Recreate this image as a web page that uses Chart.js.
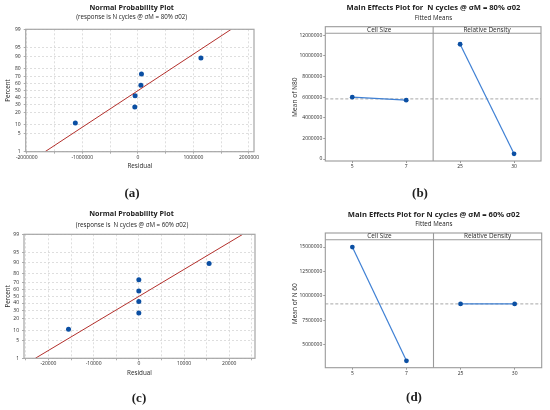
<!DOCTYPE html>
<html>
<head>
<meta charset="utf-8">
<script src="https://cdn.jsdelivr.net/npm/chart.js@4.4.1/dist/chart.umd.min.js"></script>
<style>
  html, body { margin: 0; padding: 0; background: #fff; }
  #page { position: relative; width: 550px; height: 410px; overflow: hidden; font-family: "Open Sans", sans-serif; color: #222; }
  canvas { position: absolute; }
  .t { position: absolute; transform: translate(-50%, -50%); white-space: pre; line-height: 1; }
  .title { font-weight: 700; font-size: 7.2px; }
  .title.fx { font-size: 7.6px; }
  .sub { font-size: 6.2px; }
  .tag { font-family: "Liberation Serif", serif; font-weight: 700; font-size: 13px; }
</style>
</head>
<body>
<div id="page">
  <canvas id="probA" width="275" height="205" style="left:0;top:0"></canvas>
  <canvas id="effB" width="275" height="205" style="left:275px;top:0"></canvas>
  <canvas id="probC" width="275" height="205" style="left:0;top:205px"></canvas>
  <canvas id="effD" width="275" height="205" style="left:275px;top:205px"></canvas>

  <div class="t title" style="left:131.7px;top:7.5px">Normal Probability Plot</div>
  <div class="t sub" style="left:131.7px;top:17.3px">(response is N cycles @ σM = 80% σ02)</div>
  <div class="t title fx" style="left:433.5px;top:8.3px">Main Effects Plot for  N cycles @ σM = 80% σ02</div>
  <div class="t sub" style="left:433.5px;top:18.3px">Fitted Means</div>
  <div class="t title" style="left:131.5px;top:214px">Normal Probability Plot</div>
  <div class="t sub" style="left:132px;top:225px">(response is  N cycles @ σM = 60% σ02)</div>
  <div class="t title fx" style="left:433.8px;top:215px">Main Effects Plot for N cycles @ σM = 60% σ02</div>
  <div class="t sub" style="left:433.8px;top:224.3px">Fitted Means</div>

  <div class="t tag" style="left:132px;top:192.3px">(a)</div>
  <div class="t tag" style="left:420px;top:192.3px">(b)</div>
  <div class="t tag" style="left:139px;top:396.7px">(c)</div>
  <div class="t tag" style="left:414px;top:396px">(d)</div>
</div>
<script>
// probability plots
const rankPercents = [10.9, 26.6, 42.2, 57.8, 73.4, 89.1];
const percentTicks = [1, 5, 10, 20, 30, 40, 50, 60, 70, 80, 90, 95, 99];
const fitPercents = [1, 99];

const residualsA = [-1125000, -55000, -50000, 55000, 65000, 1135000];
const fitResidualsA = [-1670000, 1680000];
const residualGridA = [-2000000, -1500000, -1000000, -500000, 0, 500000, 1000000, 1500000, 2000000];
const residualLabelsA = [-2000000, -1000000, 0, 1000000, 2000000];

const residualsC = [-15550, 0, 0, 0, 0, 15550];
const fitResidualsC = [-22900, 23000];
const residualGridC = [-25000, -20000, -15000, -10000, -5000, 0, 5000, 10000, 15000, 20000, 25000];
const residualLabelsC = [-20000, -10000, 0, 10000, 20000];

// main effects plots
const panelNames = ["Cell Size", "Relative Density"];
const cellSizeLevels = ["5", "7"];
const densityLevels = ["25", "30"];

const cellSizeMeans80 = [6000000, 5710000];
const densityMeans80 = [11130000, 510000];
const grandMean80 = 5830000;
const meanTicks80 = [0, 2000000, 4000000, 6000000, 8000000, 10000000, 12000000];

const cellSizeMeans60 = [15000000, 3350000];
const densityMeans60 = [9180000, 9180000];
const grandMean60 = 9180000;
const meanTicks60 = [5000000, 7500000, 10000000, 12500000, 15000000];

const fontFamily = '"Open Sans", sans-serif';
const textColor = "#2a2a2a";
const frameColor = "#a6a6a6";
const gridColor = "#d6d6d6";
const pointBlue = "#0b4fa3";
const effectLine = "#3f80d4";
const fitRed = "#b3302c";

// inverse of the normal cdf (Acklam), used by the probability scale
function probit(p) {
    const a = [-39.69683028665376, 220.9460984245205, -275.9285104469687, 138.3577518672690, -30.66479806614716, 2.506628277459239];
    const b = [-54.47609879822406, 161.5858368580409, -155.6989798598866, 66.80131188771972, -13.28068155288572];
    const c = [-0.007784894002430293, -0.3223964580411365, -2.400758277161838, -2.549671348021240, 4.374664141464968, 2.938163982698783];
    const d = [0.007784695709041462, 0.3224671290700398, 2.445134137142996, 3.754408661907416];
    const low = 0.02425;
    if (p < low || p > 1 - low) {
        const q = Math.sqrt(-2 * Math.log(p < low ? p : 1 - p));
        const z = (((((c[0] * q + c[1]) * q + c[2]) * q + c[3]) * q + c[4]) * q + c[5]) /
                  ((((d[0] * q + d[1]) * q + d[2]) * q + d[3]) * q + 1);
        return p < low ? z : -z;
    }
    const q = p - 0.5, r = q * q;
    return (((((a[0] * r + a[1]) * r + a[2]) * r + a[3]) * r + a[4]) * r + a[5]) * q /
           (((((b[0] * r + b[1]) * r + b[2]) * r + b[3]) * r + b[4]) * r + 1);
}

class ProbitScale extends Chart.Scale {
    static id = "probit";
    static defaults = {};

    determineDataLimits() {
        this.min = this.options.min;
        this.max = this.options.max;
    }
    buildTicks() {
        return [];
    }
    configure() {
        super.configure();
        this._zMin = probit(this.min / 100);
        this._zMax = probit(this.max / 100);
    }
    getPixelForValue(value) {
        if (value === null || value === undefined) return NaN;
        return this.getPixelForDecimal((probit(value / 100) - this._zMin) / (this._zMax - this._zMin));
    }
    getValueForPixel(pixel) {
        const z = this._zMin + this.getDecimalForPixel(pixel) * (this._zMax - this._zMin);
        let lo = 0.0001, hi = 0.9999;
        for (let i = 0; i < 40; i++) {
            const mid = (lo + hi) / 2;
            if (probit(mid) < z) lo = mid; else hi = mid;
        }
        return lo * 100;
    }
    getPixelForTick(index) {
        return this.getPixelForValue(this.ticks[index].value);
    }
}
Chart.register(ProbitScale);

const plotFrame = {
    id: "plotFrame",
    afterDatasetsDraw(chart) {
        const { ctx, chartArea: a } = chart;
        ctx.save();
        ctx.strokeStyle = frameColor;
        ctx.lineWidth = 1.2;
        ctx.strokeRect(a.left, a.top, a.width, a.height);
        ctx.restore();
    }
};

const effectsFrame = {
    id: "effectsFrame",
    beforeDatasetsDraw(chart, args, opts) {
        const { ctx, chartArea: a, scales: { y } } = chart;
        const my = y.getPixelForValue(opts.mean);
        ctx.save();
        ctx.setLineDash([3, 2]);
        ctx.strokeStyle = "#9c9c9c";
        ctx.lineWidth = 0.9;
        ctx.beginPath();
        ctx.moveTo(a.left, my);
        ctx.lineTo(a.right, my);
        ctx.stroke();
        ctx.restore();
    },
    afterDatasetsDraw(chart, args, opts) {
        const { ctx, chartArea: a, scales: { x } } = chart;
        const mid = (x.getPixelForValue(1) + x.getPixelForValue(2)) / 2;
        const top = a.top - opts.header;
        ctx.save();
        ctx.strokeStyle = "#9a9a9a";
        ctx.lineWidth = 1.1;
        ctx.strokeRect(a.left, top, a.width, a.bottom - top);
        ctx.beginPath();
        ctx.moveTo(a.left, a.top);
        ctx.lineTo(a.right, a.top);
        ctx.moveTo(mid, top);
        ctx.lineTo(mid, a.bottom);
        ctx.stroke();
        ctx.fillStyle = textColor;
        ctx.font = "6.4px " + fontFamily;
        ctx.textAlign = "center";
        ctx.textBaseline = "middle";
        ctx.fillText(panelNames[0], (a.left + mid) / 2, top + opts.header / 2 + 0.3);
        ctx.fillText(panelNames[1], (mid + a.right) / 2, top + opts.header / 2 + 0.3);
        ctx.restore();
    }
};

function tickFont(size) {
    return { family: fontFamily, size };
}

function probPlot(id, residuals, fitResiduals, grid, labels, range, box) {
    return new Chart(document.getElementById(id), {
        type: "scatter",
        data: {
            datasets: [
                {
                    type: "line",
                    data: fitResiduals.map((x, i) => ({ x, y: fitPercents[i] })),
                    borderColor: fitRed,
                    borderWidth: 1,
                    pointRadius: 0
                },
                {
                    type: "scatter",
                    data: residuals.map((x, i) => ({ x, y: rankPercents[i] })),
                    backgroundColor: pointBlue,
                    borderWidth: 0,
                    pointRadius: 2.5
                }
            ]
        },
        options: {
            responsive: false,
            animation: false,
            events: [],
            layout: { padding: { left: 0, right: box.right, top: box.top, bottom: box.bottom } },
            plugins: { legend: { display: false }, tooltip: { enabled: false } },
            scales: {
                x: {
                    type: "linear",
                    min: range[0],
                    max: range[1],
                    afterBuildTicks: (s) => { s.ticks = grid.map((v) => ({ value: v })); },
                    afterFit: (s) => { s.height = 20; },
                    ticks: {
                        callback: (v) => (labels.includes(v) ? String(v) : ""),
                        autoSkip: false, maxRotation: 0, padding: 0.5,
                        font: tickFont(5), color: textColor
                    },
                    grid: { color: gridColor, lineWidth: 0.8, tickLength: 2, tickColor: "#999", tickBorderDash: [] },
                    border: { display: false, dash: [2, 2] },
                    title: {
                        display: true, text: "Residual", color: textColor,
                        font: tickFont(6.3), padding: { top: 0, bottom: box.titleX }
                    }
                },
                y: {
                    type: "probit",
                    min: 1,
                    max: 99,
                    afterBuildTicks: (s) => { s.ticks = percentTicks.map((v) => ({ value: v })); },
                    afterFit: (s) => { s.width = box.left; },
                    ticks: { autoSkip: false, padding: 3, font: tickFont(5), color: textColor },
                    grid: { color: gridColor, lineWidth: 0.8, tickLength: 2, tickColor: "#999", tickBorderDash: [] },
                    border: { display: false, dash: [2, 2] },
                    title: {
                        display: true, text: "Percent", color: textColor,
                        font: tickFont(6.3), padding: { top: box.titleY, bottom: 0 }
                    }
                }
            }
        },
        plugins: [plotFrame]
    });
}

function effectsPlot(id, cellMeans, densityMeans, grandMean, ticks, range, yTitle, box) {
    const nulls = cellSizeLevels.map(() => null);
    return new Chart(document.getElementById(id), {
        type: "line",
        data: {
            labels: [...cellSizeLevels, ...densityLevels],
            datasets: [
                { data: [...cellMeans, ...nulls] },
                { data: [...nulls, ...densityMeans] }
            ]
        },
        options: {
            responsive: false,
            animation: false,
            events: [],
            layout: { padding: { left: 0, right: box.right, top: box.top, bottom: box.bottom } },
            elements: {
                line: { borderColor: effectLine, borderWidth: 1.2, tension: 0 },
                point: { radius: 2.4, backgroundColor: pointBlue, borderWidth: 0 }
            },
            plugins: {
                legend: { display: false },
                tooltip: { enabled: false },
                effectsFrame: { mean: grandMean, header: box.header }
            },
            scales: {
                x: {
                    type: "category",
                    offset: true,
                    afterFit: (s) => { s.height = 10; },
                    ticks: { autoSkip: false, maxRotation: 0, padding: 0.8, font: tickFont(5), color: textColor },
                    grid: { drawOnChartArea: false, tickLength: 2, tickColor: "#999" },
                    border: { display: false }
                },
                y: {
                    min: range[0],
                    max: range[1],
                    afterBuildTicks: (s) => { s.ticks = ticks.map((v) => ({ value: v })); },
                    afterFit: (s) => { s.width = box.left; },
                    ticks: { callback: (v) => String(v), autoSkip: false, padding: 1, font: tickFont(5), color: textColor },
                    grid: { drawOnChartArea: false, tickLength: 2, tickColor: "#999" },
                    border: { display: false },
                    title: {
                        display: true, text: yTitle, color: textColor,
                        font: tickFont(6.6), padding: { top: 15.7, bottom: 0 }
                    }
                }
            }
        },
        plugins: [effectsFrame]
    });
}

probPlot("probA", residualsA, fitResidualsA, residualGridA, residualLabelsA, [-2018000, 2090000],
    { left: 25.7, right: 21, top: 29.3, bottom: 33.3, titleX: 2.2, titleY: 4.4 });
probPlot("probC", residualsC, fitResidualsC, residualGridC, residualLabelsC, [-25400, 25700],
    { left: 24, right: 20, top: 29.3, bottom: 31.7, titleX: 1.8, titleY: 4.5 });

effectsPlot("effB", cellSizeMeans80, densityMeans80, grandMean80, meanTicks80, [-190000, 12190000], "Mean of N80",
    { left: 50.3, right: 9, top: 33.3, bottom: 34, header: 6.6 });
effectsPlot("effD", cellSizeMeans60, densityMeans60, grandMean60, meanTicks60, [2650000, 15750000], "Mean of N 60",
    { left: 50.3, right: 8.3, top: 34.7, bottom: 32.3, header: 6.7 });
</script>
</body>
</html>
